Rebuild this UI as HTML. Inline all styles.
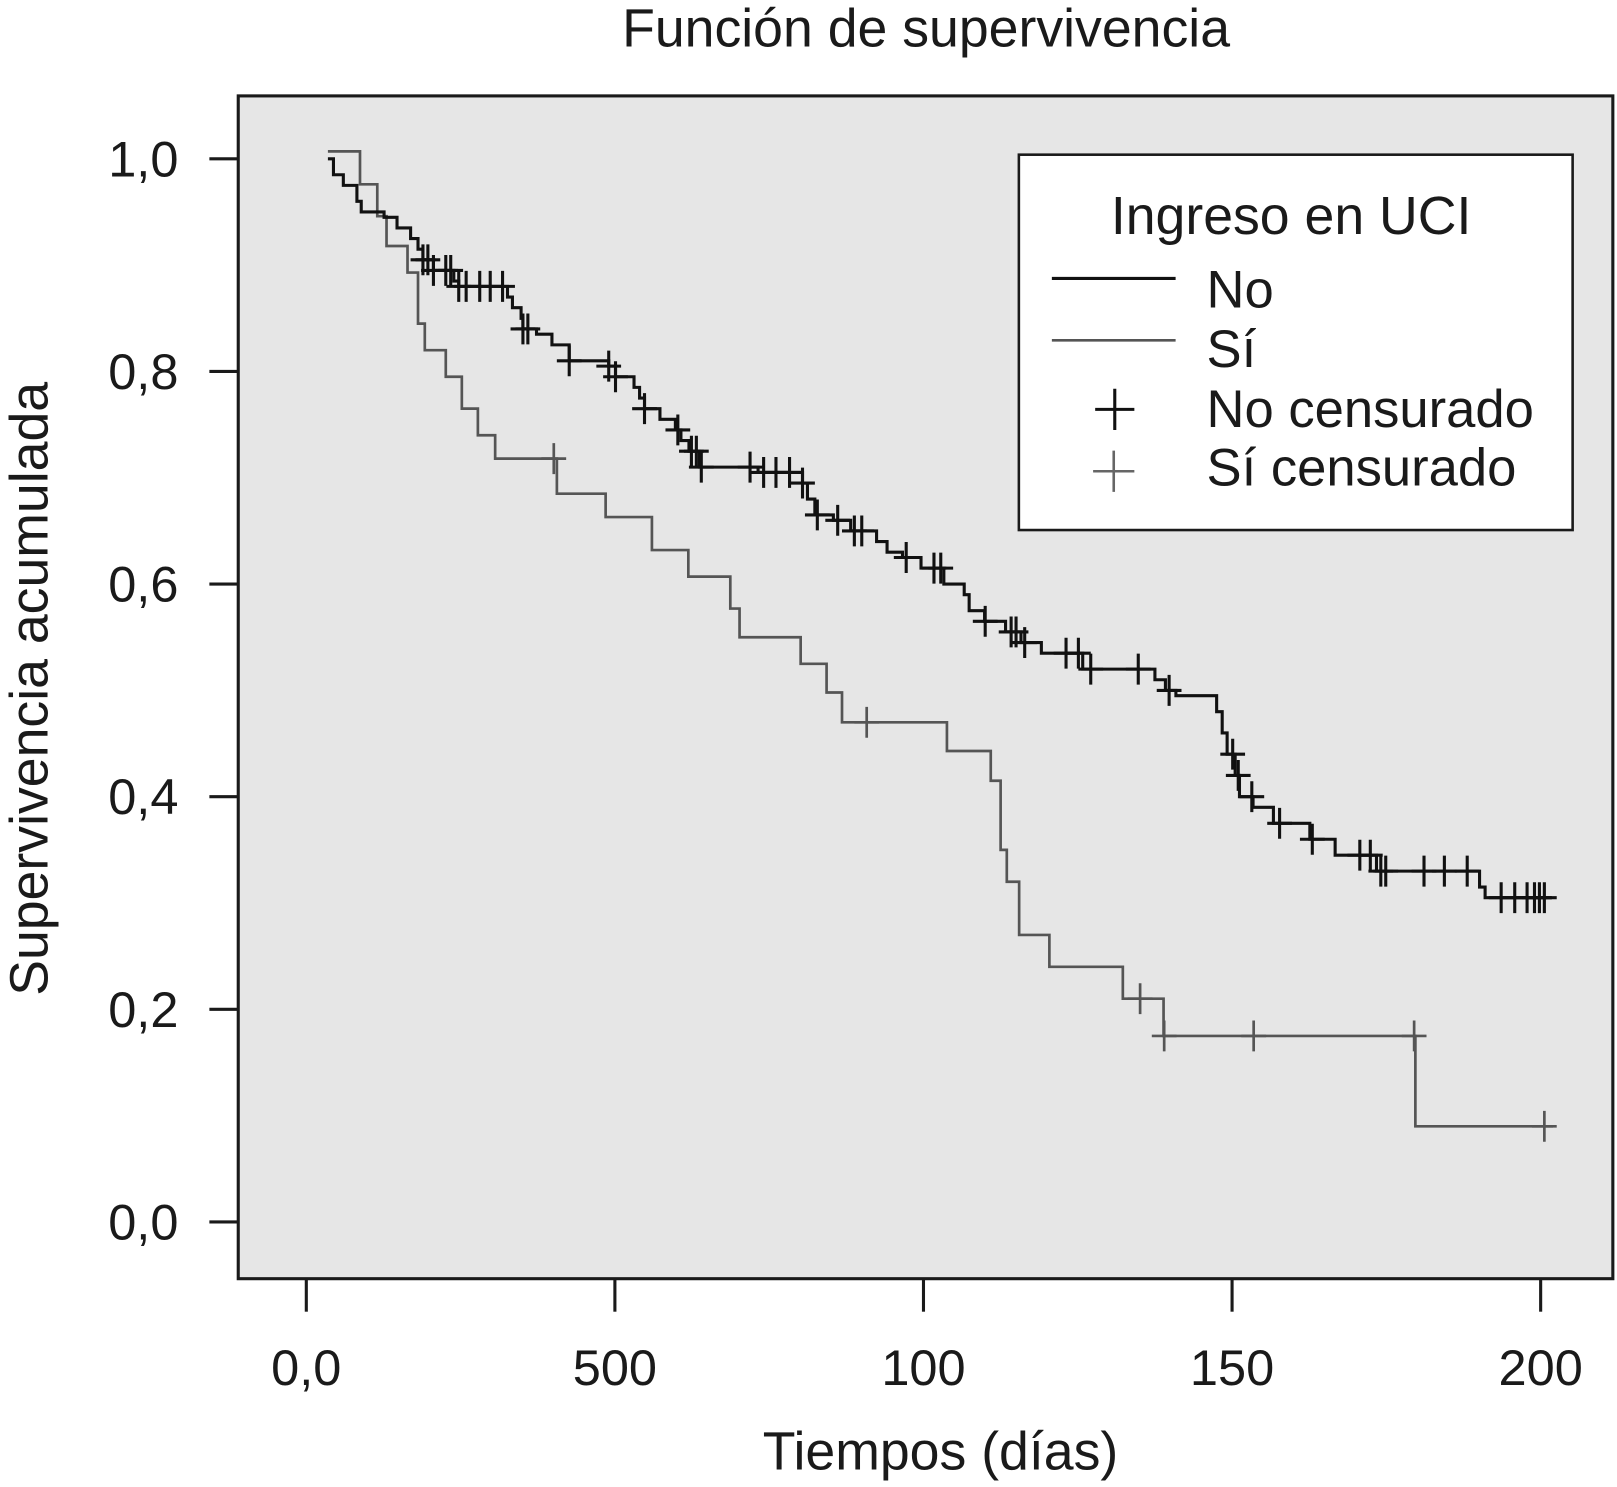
<!DOCTYPE html>
<html><head><meta charset="utf-8"><style>
html,body{margin:0;padding:0;background:#fff}
svg{display:block}
text{font-family:"Liberation Sans",Arial,sans-serif;fill:#1a1a1a}
</style></head><body>
<svg id="chart" width="1617" height="1487" viewBox="0 0 1568 1442" xmlns="http://www.w3.org/2000/svg">
<text x="898" y="45" font-size="52" text-anchor="middle">Función de supervivencia</text>
<rect x="231" y="93" width="1333" height="1147" fill="#e6e6e6" stroke="#1a1a1a" stroke-width="3"/>
<g id="axes"></g>
<g id="series"></g>
<text transform="translate(46,668) rotate(-90)" font-size="52" text-anchor="middle">Supervivencia acumulada</text>
<text x="912" y="1425" font-size="52" text-anchor="middle">Tiempos (días)</text>
<g>
<rect x="988" y="150" width="537" height="364" fill="#fff" stroke="#1a1a1a" stroke-width="2.5"/>
<text x="1252" y="227" font-size="52" text-anchor="middle">Ingreso en UCI</text>
<line x1="1020" y1="270" x2="1140" y2="270" stroke="#111" stroke-width="3"/>
<text x="1170" y="298" font-size="51">No</text>
<line x1="1020" y1="330" x2="1140" y2="330" stroke="#555" stroke-width="2.5"/>
<text x="1170" y="356" font-size="51">Sí</text>
<path d="M1062 397H1100M1081 377V417" stroke="#111" stroke-width="3"/>
<text x="1170" y="414" font-size="51">No censurado</text>
<path d="M1060 457H1100M1080 437V477" stroke="#666" stroke-width="2.5"/>
<text x="1170" y="471" font-size="51">Sí censurado</text>
</g>
</svg>
<script>
const xTickValues=[0,500,1000,1500,2000];
const xTickLabels=["0,0","500","100","150","200"];
const yTickValues=[0,0.2,0.4,0.6,0.8,1.0];
const yTickLabels=["0,0","0,2","0,4","0,6","0,8","1,0"];
const noTimes=[35,44,60,82,89,126,147,169,181,189,206,239,247,326,334,348,351,373,398,426,490,501,531,540,548,573,598,607,620,637,732,804,812,824,854,882,924,941,966,996,1033,1066,1074,1099,1133,1158,1191,1258,1375,1392,1409,1475,1484,1492,1505,1512,1534,1567,1626,1667,1734,1901,1910];
const noSurv=[1.0,.985,.975,.96,.95,.945,.935,.925,.915,.905,.895,.885,.88,.87,.86,.85,.84,.835,.825,.81,.805,.795,.785,.775,.765,.755,.745,.735,.725,.71,.705,.695,.68,.665,.66,.65,.64,.63,.625,.615,.6,.59,.575,.565,.555,.545,.535,.52,.51,.5,.495,.48,.46,.44,.42,.4,.39,.375,.36,.345,.33,.315,.305];
const noEnd=2018;
const noCensored=[189,197,206,226,234,247,259,281,298,318,351,359,426,490,501,548,602,624,632,640,719,741,761,783,804,828,861,888,900,972,1017,1028,1100,1142,1150,1164,1231,1251,1271,1348,1398,1501,1510,1532,1577,1630,1707,1724,1741,1749,1811,1844,1881,1936,1958,1978,1990,1998,2006];
const siTimes=[35,87,115,130,164,181,192,226,252,278,306,406,485,560,619,687,702,801,843,868,1038,1109,1125,1135,1155,1204,1323,1389,1797];
const siSurv=[1.007,.976,.946,.918,.893,.845,.82,.795,.765,.74,.718,.685,.663,.632,.607,.577,.55,.525,.498,.47,.443,.415,.35,.32,.27,.24,.21,.175,.09];
const siEnd=2020;
const siCensored=[401,908,1351,1390,1535,1795,2006];

const NS="http://www.w3.org/2000/svg";
const X=t=>297+t*0.5985;
const Y=s=>1185-s*1031;
function mk(tag,attrs,parent){const e=document.createElementNS(NS,tag);for(const k in attrs)e.setAttribute(k,attrs[k]);parent.appendChild(e);return e;}
const axes=document.getElementById('axes');
xTickValues.forEach((v,i)=>{
  const l=mk('line',{x1:X(v),x2:X(v),y1:1240,y2:1272,stroke:'#1a1a1a','stroke-width':3},axes);
  
  
  const t=mk('text',{x:X(v),y:1343,'font-size':49,'text-anchor':'middle'},axes);
  t.textContent=xTickLabels[i];
  
  
});
yTickValues.forEach((v,i)=>{
  const l=mk('line',{x1:203,x2:231,y1:Y(v),y2:Y(v),stroke:'#1a1a1a','stroke-width':3},axes);
  
  
  const t=mk('text',{x:173,y:Y(v)+17,'font-size':49,'text-anchor':'end'},axes);
  t.textContent=yTickLabels[i];
  
  
});
const series=document.getElementById('series');
function stepVal(times,surv,t){let s=surv[0];for(let i=0;i<times.length;i++){if(times[i]<=t)s=surv[i];}return s;}
function drawSeries(times,surv,end,cens,color,w,name){
  let d='M'+X(times[0])+' '+Y(surv[0]);
  for(let i=1;i<times.length;i++){d+='H'+X(times[i])+'V'+Y(surv[i]);}
  d+='H'+X(end);
  const p=mk('path',{d:d,fill:'none',stroke:color,'stroke-width':w},series);
  
  
  cens.forEach(t=>{
    const s=stepVal(times,surv,t);
    const x=X(t),y=Y(s);
    const m=mk('path',{d:'M'+(x-12)+' '+y+'H'+(x+12)+'M'+x+' '+(y-15)+'V'+(y+15),stroke:color,'stroke-width':w},series);
    
    
  });
}
drawSeries(siTimes,siSurv,siEnd,siCensored,'#555',2.6,'si');
drawSeries(noTimes,noSurv,noEnd,noCensored,'#111',3,'no');
</script>
</body></html>
